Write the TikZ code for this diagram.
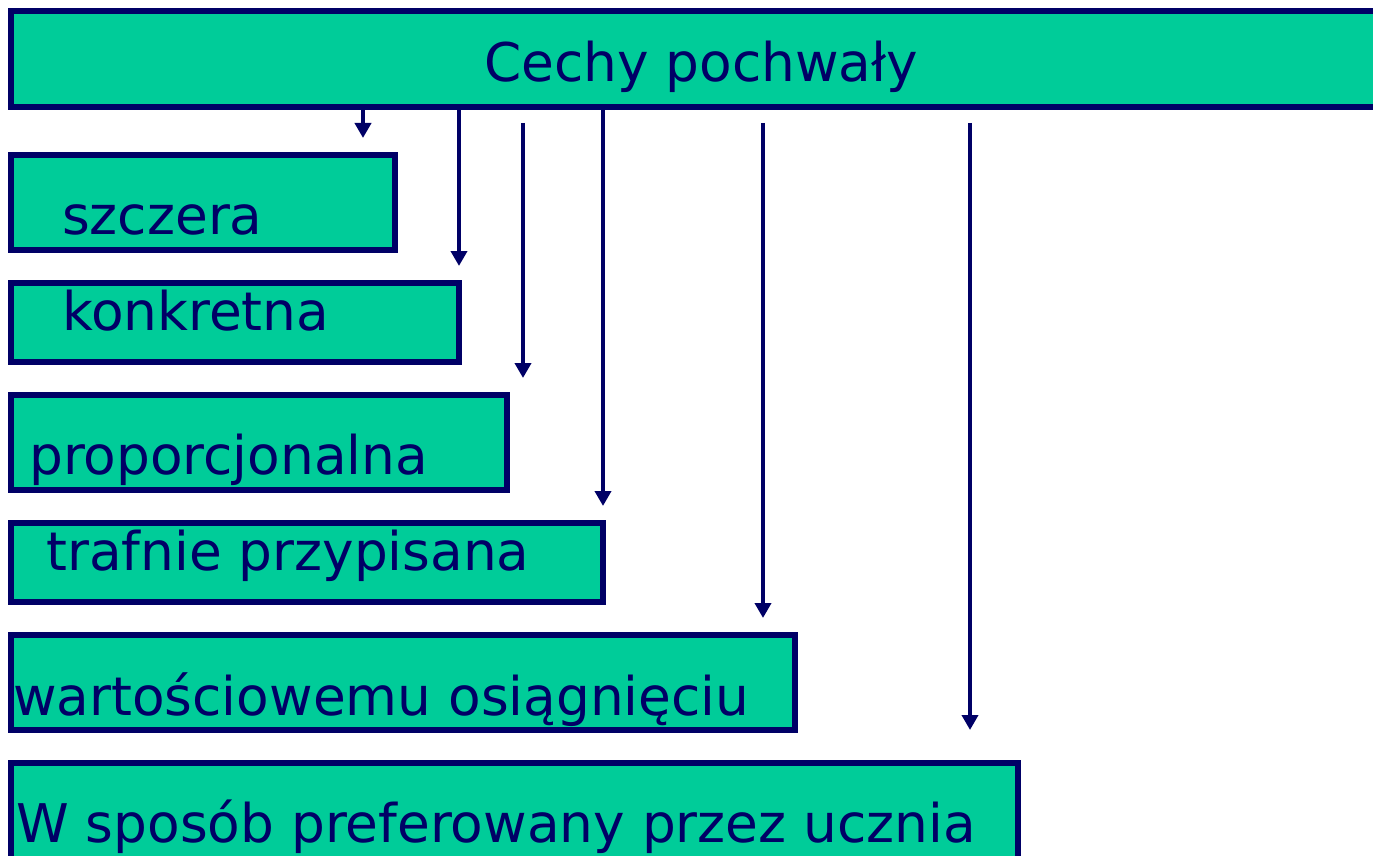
\documentclass[tikz,border=0pt]{standalone}
\usepackage{fontspec}
\setmainfont{DejaVu Sans}
\usetikzlibrary{arrows.meta}
\definecolor{boxgreen}{RGB}{0,204,153}
\definecolor{inkblue}{RGB}{0,0,102}

\begin{document}
\begin{tikzpicture}[x=1pt,y=-1pt]
        \useasboundingbox (0,0) rectangle (1373,856);
        % boxes
        \begin{scope}[every node/.style={draw=inkblue,fill=boxgreen,line width=5.5pt,rectangle,anchor=north west,outer sep=0pt,inner sep=0pt}]
          \node[minimum width=1400pt,minimum height=96pt] (cechy) at (11,11) {};
          \node[minimum width=384pt,minimum height=95pt] (szczera) at (11,155) {};
          \node[minimum width=448pt,minimum height=79pt] (konkretna) at (11,283) {};
          \node[minimum width=496pt,minimum height=95pt] (proporcja) at (11,395) {};
          \node[minimum width=592pt,minimum height=79pt] (trafnie) at (11,523) {};
          \node[minimum width=784pt,minimum height=95pt] (wartosc) at (11,635) {};
          \node[minimum width=1007pt,minimum height=140pt] (sposob) at (11,763) {};
        \end{scope}
        % texts
        \begin{scope}[every node/.style={text=inkblue,anchor=base west,inner sep=0pt,font=\fontsize{53.3}{60}\selectfont}]
          \node (tcechy) at (484,82) {Cechy pochwały};
          \node (tszczera) at (62,234) {szczera};
          \node (tkonkretna) at (62,330) {konkretna};
          \node (tproporcja) at (29,474) {proporcjonalna};
          \node (ttrafnie) at (46,570) {trafnie przypisana};
          \node (twartosc) at (13,715) {wartościowemu osiągnięciu};
          \node (tsposob) at (16,842) {W sposób preferowany przez ucznia};
        \end{scope}
        % arrow ends
        \coordinate (s3) at (523,123);
        \coordinate (s5) at (763,123);
        \coordinate (s6) at (970,123);
        \coordinate (e1) at (363,138);
        \coordinate (e2) at (459,266);
        \coordinate (e3) at (523,378);
        \coordinate (e4) at (603,506);
        \coordinate (e5) at (763,618);
        \coordinate (e6) at (970,730);
        \begin{scope}[every edge/.style={draw=inkblue,line width=4.3pt,-{Triangle[length=15pt,width=16pt]}}]
          \path (cechy.south -| e1) edge (e1);
          \path (cechy.south -| e2) edge (e2);
          \path (s3) edge (e3);
          \path (cechy.south -| e4) edge (e4);
          \path (s5) edge (e5);
          \path (s6) edge (e6);
        \end{scope}
\end{tikzpicture}
\end{document}
